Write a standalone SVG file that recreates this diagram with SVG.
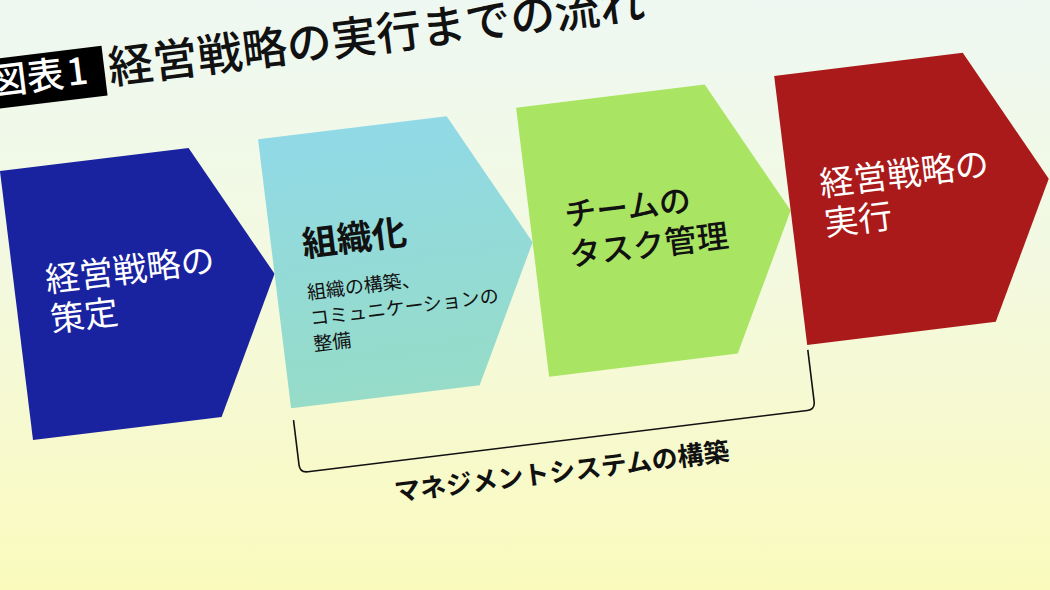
<svg xmlns="http://www.w3.org/2000/svg" width="1050" height="590" viewBox="0 0 1050 590">
<defs>
<linearGradient id="bg" x1="0" y1="0" x2="0" y2="1">
<stop offset="0" stop-color="#eef8f2"/>
<stop offset="0.45" stop-color="#f3f9e0"/>
<stop offset="1" stop-color="#fafabd"/>
</linearGradient>
<linearGradient id="cy" x1="0" y1="0" x2="0" y2="1">
<stop offset="0" stop-color="#91d9e6"/>
<stop offset="1" stop-color="#96dcc8"/>
</linearGradient>
<path id="arrow" d="M0,0 H190 L260,135.5 L190,271 H0 Z"/>
<style>
text{font-family:"Noto Sans CJK JP","Noto Sans",sans-serif;font-weight:400}
.med{font-weight:500}
.bold{font-weight:700}
.big{font-size:34px}
.white{fill:#ffffff}
.black{fill:#111111}
.sub{font-size:19px;fill:#111111}
.bracket{fill:none;stroke:#111111;stroke-width:1.6}
</style>
</defs>
<rect width="1050" height="590" fill="url(#bg)"/>
<g transform="rotate(-7 525 295)">
<g id="title">
<rect x="-40" y="-4" width="175" height="50" fill="#000000"/>
<text x="20" y="32" font-size="37" class="white med">図表<tspan dx="3">1</tspan></text>
<text x="139" y="35" font-size="45" class="black med">経営戦略の実行までの流れ</text>
</g>
<g id="node-strategy">
<use href="#arrow" x="19" y="108" fill="#1a239f"/>
<text class="big white" x="51" y="234">経営戦略の</text>
<text class="big white" x="51" y="274">策定</text>
</g>
<g id="node-organization">
<use href="#arrow" x="279" y="108" fill="url(#cy)"/>
<text x="310" y="230" font-size="35" class="black bold">組織化</text>
<text class="sub" x="309" y="273">組織の構築、</text>
<text class="sub" x="309" y="299">コミュニケーションの</text>
<text class="sub" x="309" y="325">整備</text>
</g>
<g id="node-task">
<use href="#arrow" x="539" y="108" fill="#a9e463"/>
<text x="574" y="232" font-size="32" class="black med">チームの</text>
<text x="574" y="272" font-size="32" class="black med">タスク管理</text>
</g>
<g id="node-execution">
<use href="#arrow" x="799" y="108" fill="#ab1a1a"/>
<text class="big white" x="831" y="233">経営戦略の</text>
<text class="big white" x="831" y="273">実行</text>
</g>
<g id="connectors">
<path class="bracket" d="M280,391 V436 Q280,444 288,444 H791 Q799,444 799,436 V384"/>
</g>
<g id="label-management">
<text x="540" y="484" font-size="26" text-anchor="middle" class="black bold">マネジメントシステムの構築</text>
</g>
</g>
</svg>
